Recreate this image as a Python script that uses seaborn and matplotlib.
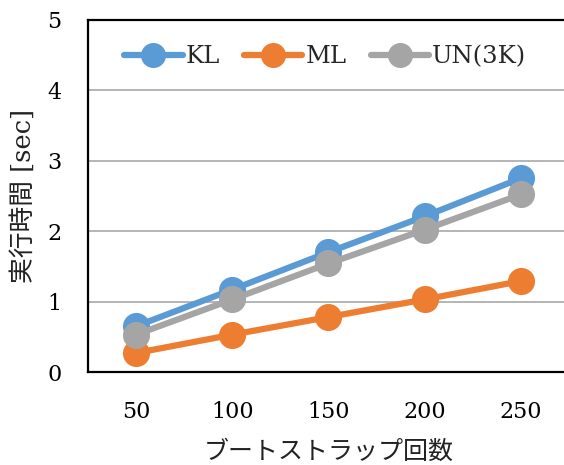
import matplotlib
matplotlib.use("Agg")
import matplotlib.pyplot as plt
from matplotlib.lines import Line2D
import seaborn as sns
import pandas as pd

# Bootstrap counts and measured run times (seconds)
bootstrap_counts = [50, 100, 150, 200, 250]
kl_times = [0.65, 1.17, 1.70, 2.21, 2.75]
ml_times = [0.27, 0.53, 0.78, 1.03, 1.29]
un3k_times = [0.53, 1.03, 1.54, 2.02, 2.52]
series_names = ["KL", "ML", "UN(3K)"]
y_ticks = [0, 1, 2, 3, 4, 5]

colors = {"KL": "#5B9BD5", "ML": "#ED7D31", "UN(3K)": "#A5A5A5"}

df = pd.DataFrame({
    "count": bootstrap_counts * 3,
    "time": kl_times + ml_times + un3k_times,
    "method": [n for n in series_names for _ in bootstrap_counts],
})

sns.set_theme(style="white")
plt.rcParams["font.family"] = ["DejaVu Serif", "Noto Sans CJK JP"]

fig = plt.figure(figsize=(5.64, 4.65), dpi=100)
ax = fig.add_axes([88 / 564, 0.2, 481 / 564, 0.7576])

sns.lineplot(data=df, x="count", y="time", hue="method", hue_order=series_names,
             palette=colors, marker="o", markersize=19.5, markeredgewidth=0,
             linewidth=4.5, ax=ax, legend=False, zorder=3)

ax.set_xlim(25, 275)
ax.set_ylim(0, 5)
ax.set_xticks(bootstrap_counts)
ax.set_xticklabels([str(c) for c in bootstrap_counts])
ax.set_yticks(y_ticks)
ax.set_yticklabels([str(t) for t in y_ticks])
ax.yaxis.grid(True, color="#B4B4B4", linewidth=1.4)
ax.xaxis.grid(False)
ax.tick_params(axis="both", length=0, labelsize=16, colors="black")
ax.tick_params(axis="y", pad=19)
ax.tick_params(axis="x", pad=21)
for s in ax.spines.values():
    s.set_color("black")
    s.set_linewidth(1.6)
    s.set_visible(True)

ax.set_xlabel("ブートストラップ回数", fontsize=18, family=["Noto Sans CJK JP"],
              labelpad=11, color="#222222")
ax.set_ylabel("実行時間 [sec]", fontsize=18.5,
              family=["DejaVu Serif", "Noto Sans CJK JP"],
              labelpad=8, color="#222222")

handles = [Line2D([], [], color=colors[n], linewidth=4.5, marker="o",
                  markersize=18, markeredgewidth=0) for n in series_names]
leg = ax.legend(handles, series_names, loc="upper left", ncol=3,
                bbox_to_anchor=(0.055, 0.955), frameon=False, fontsize=17.5,
                handlelength=2.4, handletextpad=0.12, columnspacing=1.0,
                borderaxespad=0)

fig.savefig("out.png", dpi=100)
